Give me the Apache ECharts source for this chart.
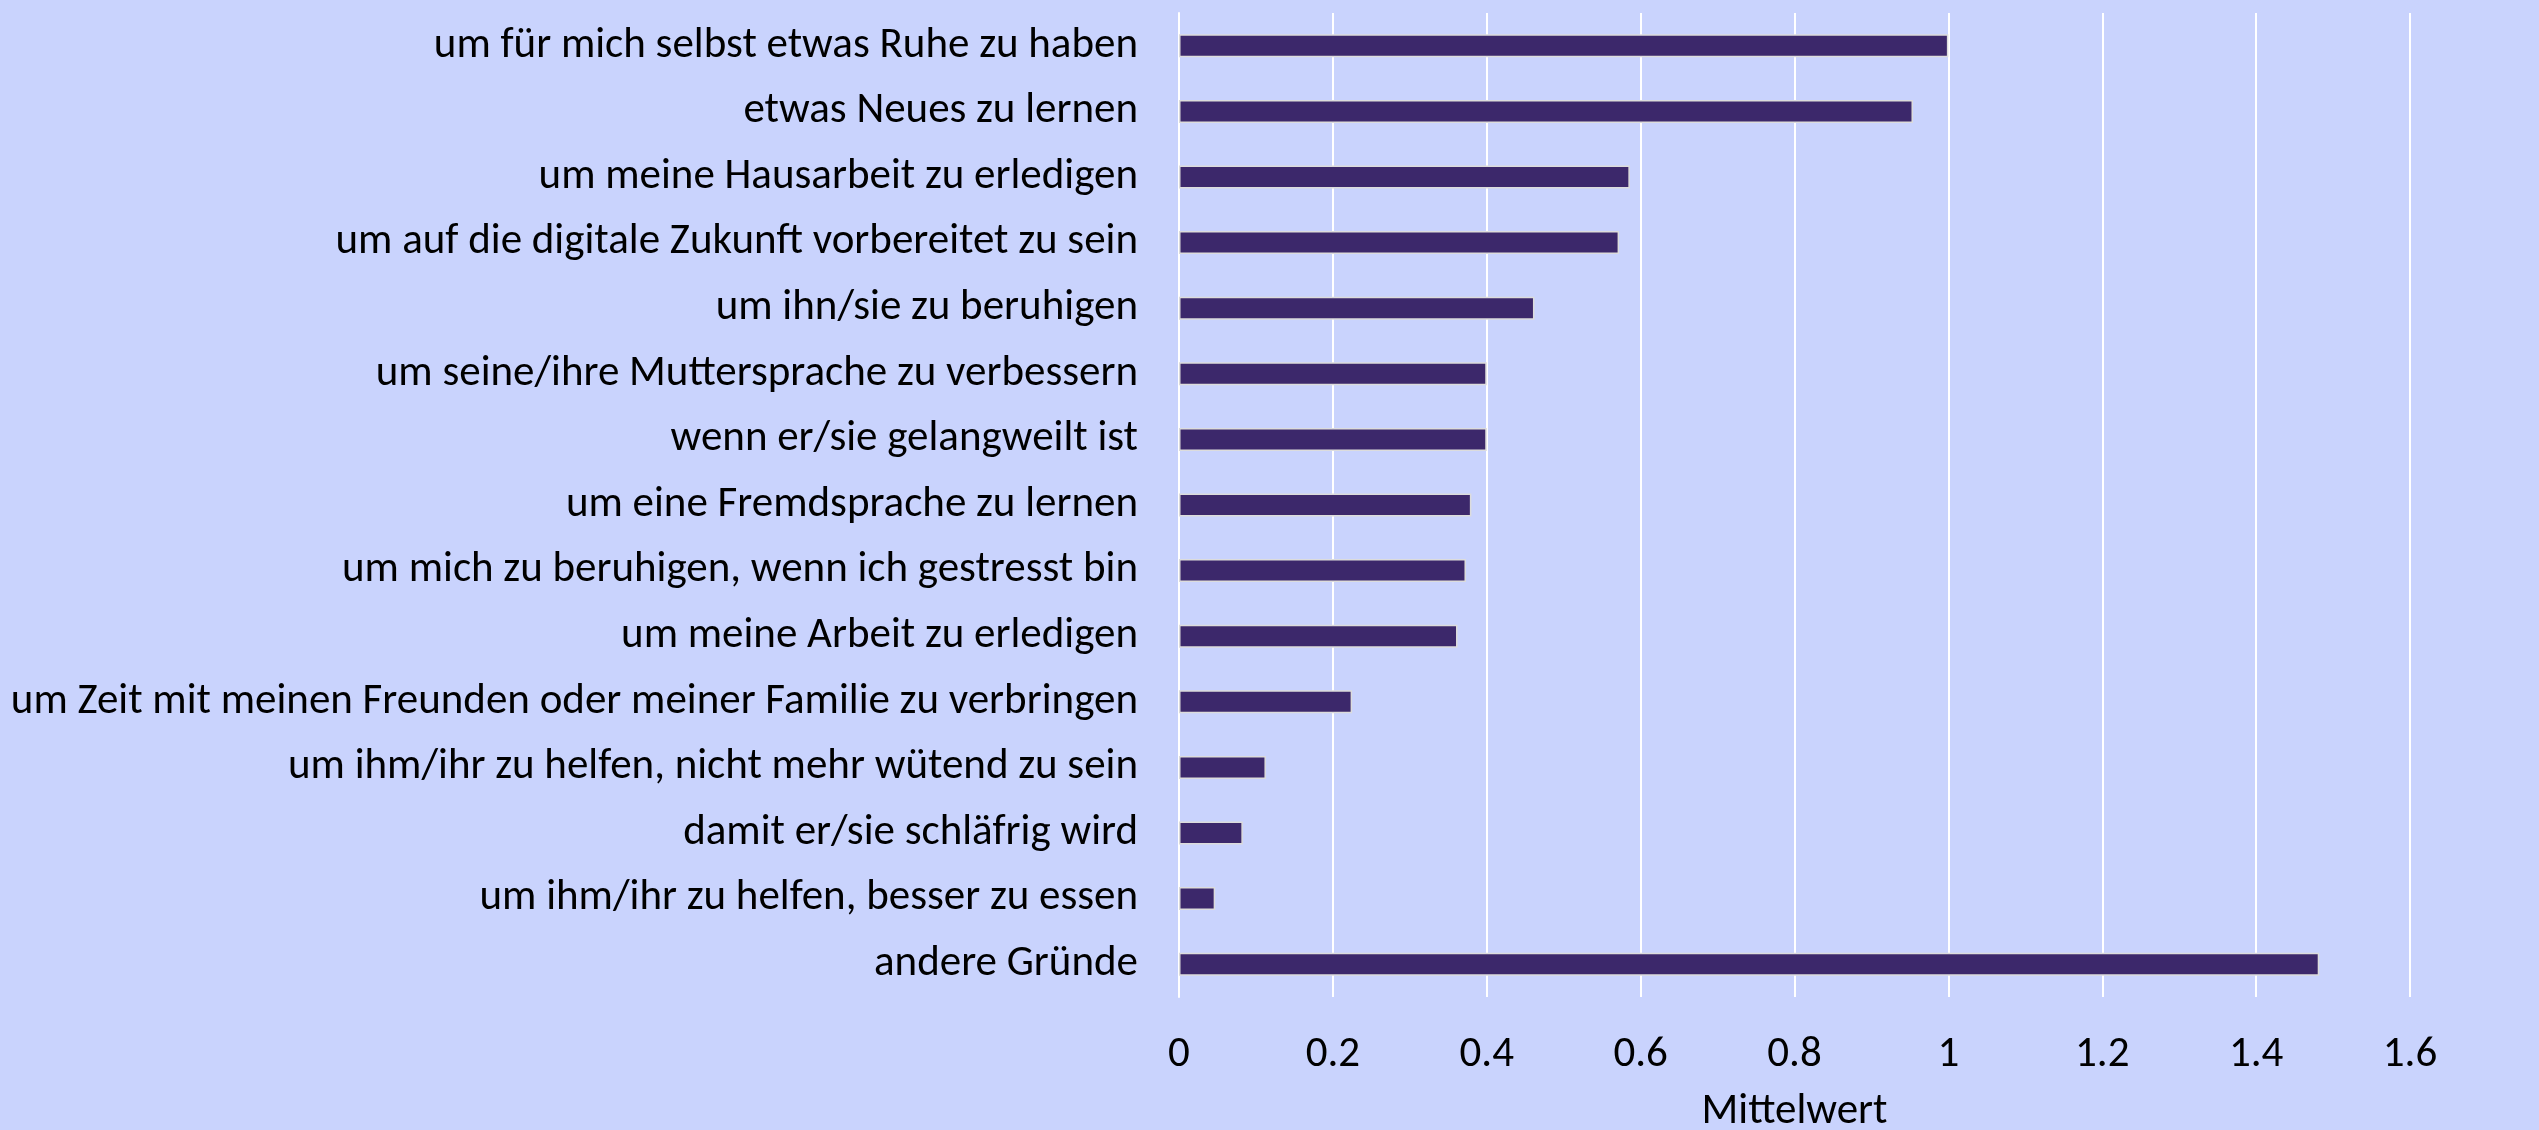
<!DOCTYPE html>
<html>
<head>
<meta charset="utf-8">
<script src="https://cdn.jsdelivr.net/npm/echarts@6/dist/echarts.min.js"></script>
<style>
html,body{margin:0;padding:0;background:#c9d3fd;}
#c{width:2539px;height:1130px;}
</style>
</head>
<body>
<div id="c"></div>
<script>
const categories = [
  "um für mich selbst etwas Ruhe zu haben",
  "etwas Neues zu lernen",
  "um meine Hausarbeit zu erledigen",
  "um auf die digitale Zukunft vorbereitet zu sein",
  "um ihn/sie zu beruhigen",
  "um seine/ihre Muttersprache zu verbessern",
  "wenn er/sie gelangweilt ist",
  "um eine Fremdsprache zu lernen",
  "um mich zu beruhigen, wenn ich gestresst bin",
  "um meine Arbeit zu erledigen",
  "um Zeit mit meinen Freunden oder meiner Familie zu verbringen",
  "um ihm/ihr zu helfen, nicht mehr wütend zu sein",
  "damit er/sie schläfrig wird",
  "um ihm/ihr zu helfen, besser zu essen",
  "andere Gründe"
];
const values = [1.0, 0.954, 0.586, 0.572, 0.462, 0.400, 0.400, 0.380, 0.373, 0.362, 0.225, 0.113, 0.083, 0.047, 1.482];
const xTicks = [0, 0.2, 0.4, 0.6, 0.8, 1, 1.2, 1.4, 1.6];
const axisName = "Mittelwert";

const FONT = "Carlito, 'Liberation Sans', Arial, sans-serif";
const chart = echarts.init(document.getElementById('c'));
chart.setOption({
  backgroundColor: '#c9d3fd',
  animation: false,
  grid: {left: 1179, right: 129, top: 13, bottom: 133, containLabel: false, outerBoundsMode: 'none'},
  xAxis: {
    type: 'value',
    min: xTicks[0],
    max: xTicks[xTicks.length - 1],
    interval: 0.2,
    name: axisName,
    nameLocation: 'middle',
    nameGap: 94,
    nameTextStyle: {color: '#000', fontSize: 43, fontFamily: FONT},
    axisLine: {show: false},
    axisTick: {show: false},
    axisLabel: {color: '#000', fontSize: 43, fontFamily: FONT, margin: 37,
      formatter: v => String(Math.round(v * 10) / 10)},
    splitLine: {show: true, lineStyle: {color: '#ffffff', width: 2}}
  },
  yAxis: {
    type: 'category',
    data: categories,
    inverse: true,
    axisLine: {show: true, lineStyle: {color: '#ffffff', width: 2}},
    axisTick: {show: false},
    axisLabel: {color: '#000', fontSize: 43, fontFamily: FONT, margin: 41},
    splitLine: {show: false}
  },
  series: [{
    type: 'bar',
    data: values,
    barWidth: 23,
    itemStyle: {color: '#3c286b', borderColor: '#dcdcdc', borderWidth: 1.5}
  }]
});
</script>
</body>
</html>
